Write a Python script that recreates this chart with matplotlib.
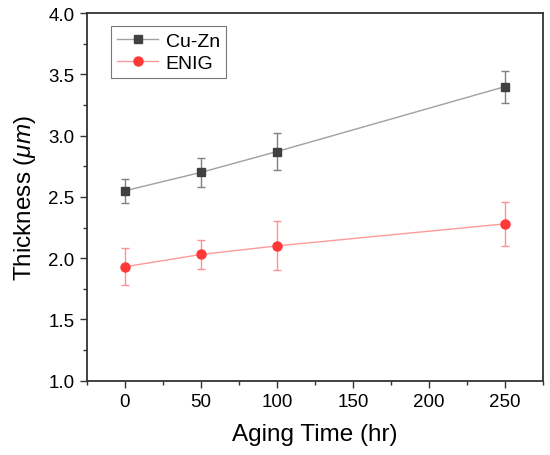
import matplotlib
matplotlib.use("Agg")
import matplotlib.pyplot as plt
from matplotlib.ticker import MultipleLocator, FormatStrFormatter

plt.rcParams['font.family'] = ['Liberation Sans', 'DejaVu Sans']
plt.rcParams['mathtext.fontset'] = 'custom'
plt.rcParams['mathtext.it'] = 'Liberation Sans:italic'
plt.rcParams['mathtext.rm'] = 'Liberation Sans'

# données
aging_time = [0, 50, 100, 250]
cuzn_thick = [2.55, 2.70, 2.87, 3.40]
cuzn_err = [0.10, 0.12, 0.15, 0.13]
enig_thick = [1.93, 2.03, 2.10, 2.28]
enig_err = [0.15, 0.12, 0.20, 0.18]

fig = plt.figure(figsize=(5.5, 4.56), dpi=100)
ax = fig.add_axes([0.158, 0.163, 0.829, 0.806])

# barres d'erreur seules (pas dans la légende)
ax.errorbar(aging_time, cuzn_thick, yerr=cuzn_err, fmt='none',
            ecolor='#808080', elinewidth=1.0, capsize=3, capthick=1.0)
ax.errorbar(aging_time, enig_thick, yerr=enig_err, fmt='none',
            ecolor='#ff9090', elinewidth=1.0, capsize=3, capthick=1.0)

ax.plot(aging_time, cuzn_thick, color='#a0a0a0', lw=1.0,
        marker='s', ms=5.5, mfc='#404040', mec='#404040', label='Cu-Zn')
ax.plot(aging_time, enig_thick, color='#ff9a9a', lw=1.0,
        marker='o', ms=6.5, mfc='#ff3838', mec='#ff3838', label='ENIG')

ax.set_xlim(-25, 275)
ax.set_ylim(1.0, 4.0)
ax.xaxis.set_major_locator(MultipleLocator(50))
ax.xaxis.set_minor_locator(MultipleLocator(25))
ax.yaxis.set_major_locator(MultipleLocator(0.5))
ax.yaxis.set_minor_locator(MultipleLocator(0.25))
ax.yaxis.set_major_formatter(FormatStrFormatter('%.1f'))

for s in ax.spines.values():
    s.set_linewidth(1.3)
    s.set_color('#333333')
ax.tick_params(which='major', direction='out', length=5, width=1.0,
               labelsize=13.5, color='#333333', pad=4)
ax.tick_params(which='minor', direction='out', length=3, width=1.0,
               color='#333333')

ax.set_xlabel('Aging Time (hr)', fontsize=17.5, labelpad=9)
ax.set_ylabel(r'Thickness ($\mu m$)', fontsize=17.5, labelpad=7)

leg = ax.legend(loc='upper left', bbox_to_anchor=(0.045, 0.975), fontsize=14,
                frameon=True, fancybox=False, edgecolor='#555555',
                handlelength=2.1, borderpad=0.3, labelspacing=0.25,
                handletextpad=0.4, borderaxespad=0.2)
leg.get_frame().set_linewidth(0.8)

fig.savefig('out.png', dpi=100)
